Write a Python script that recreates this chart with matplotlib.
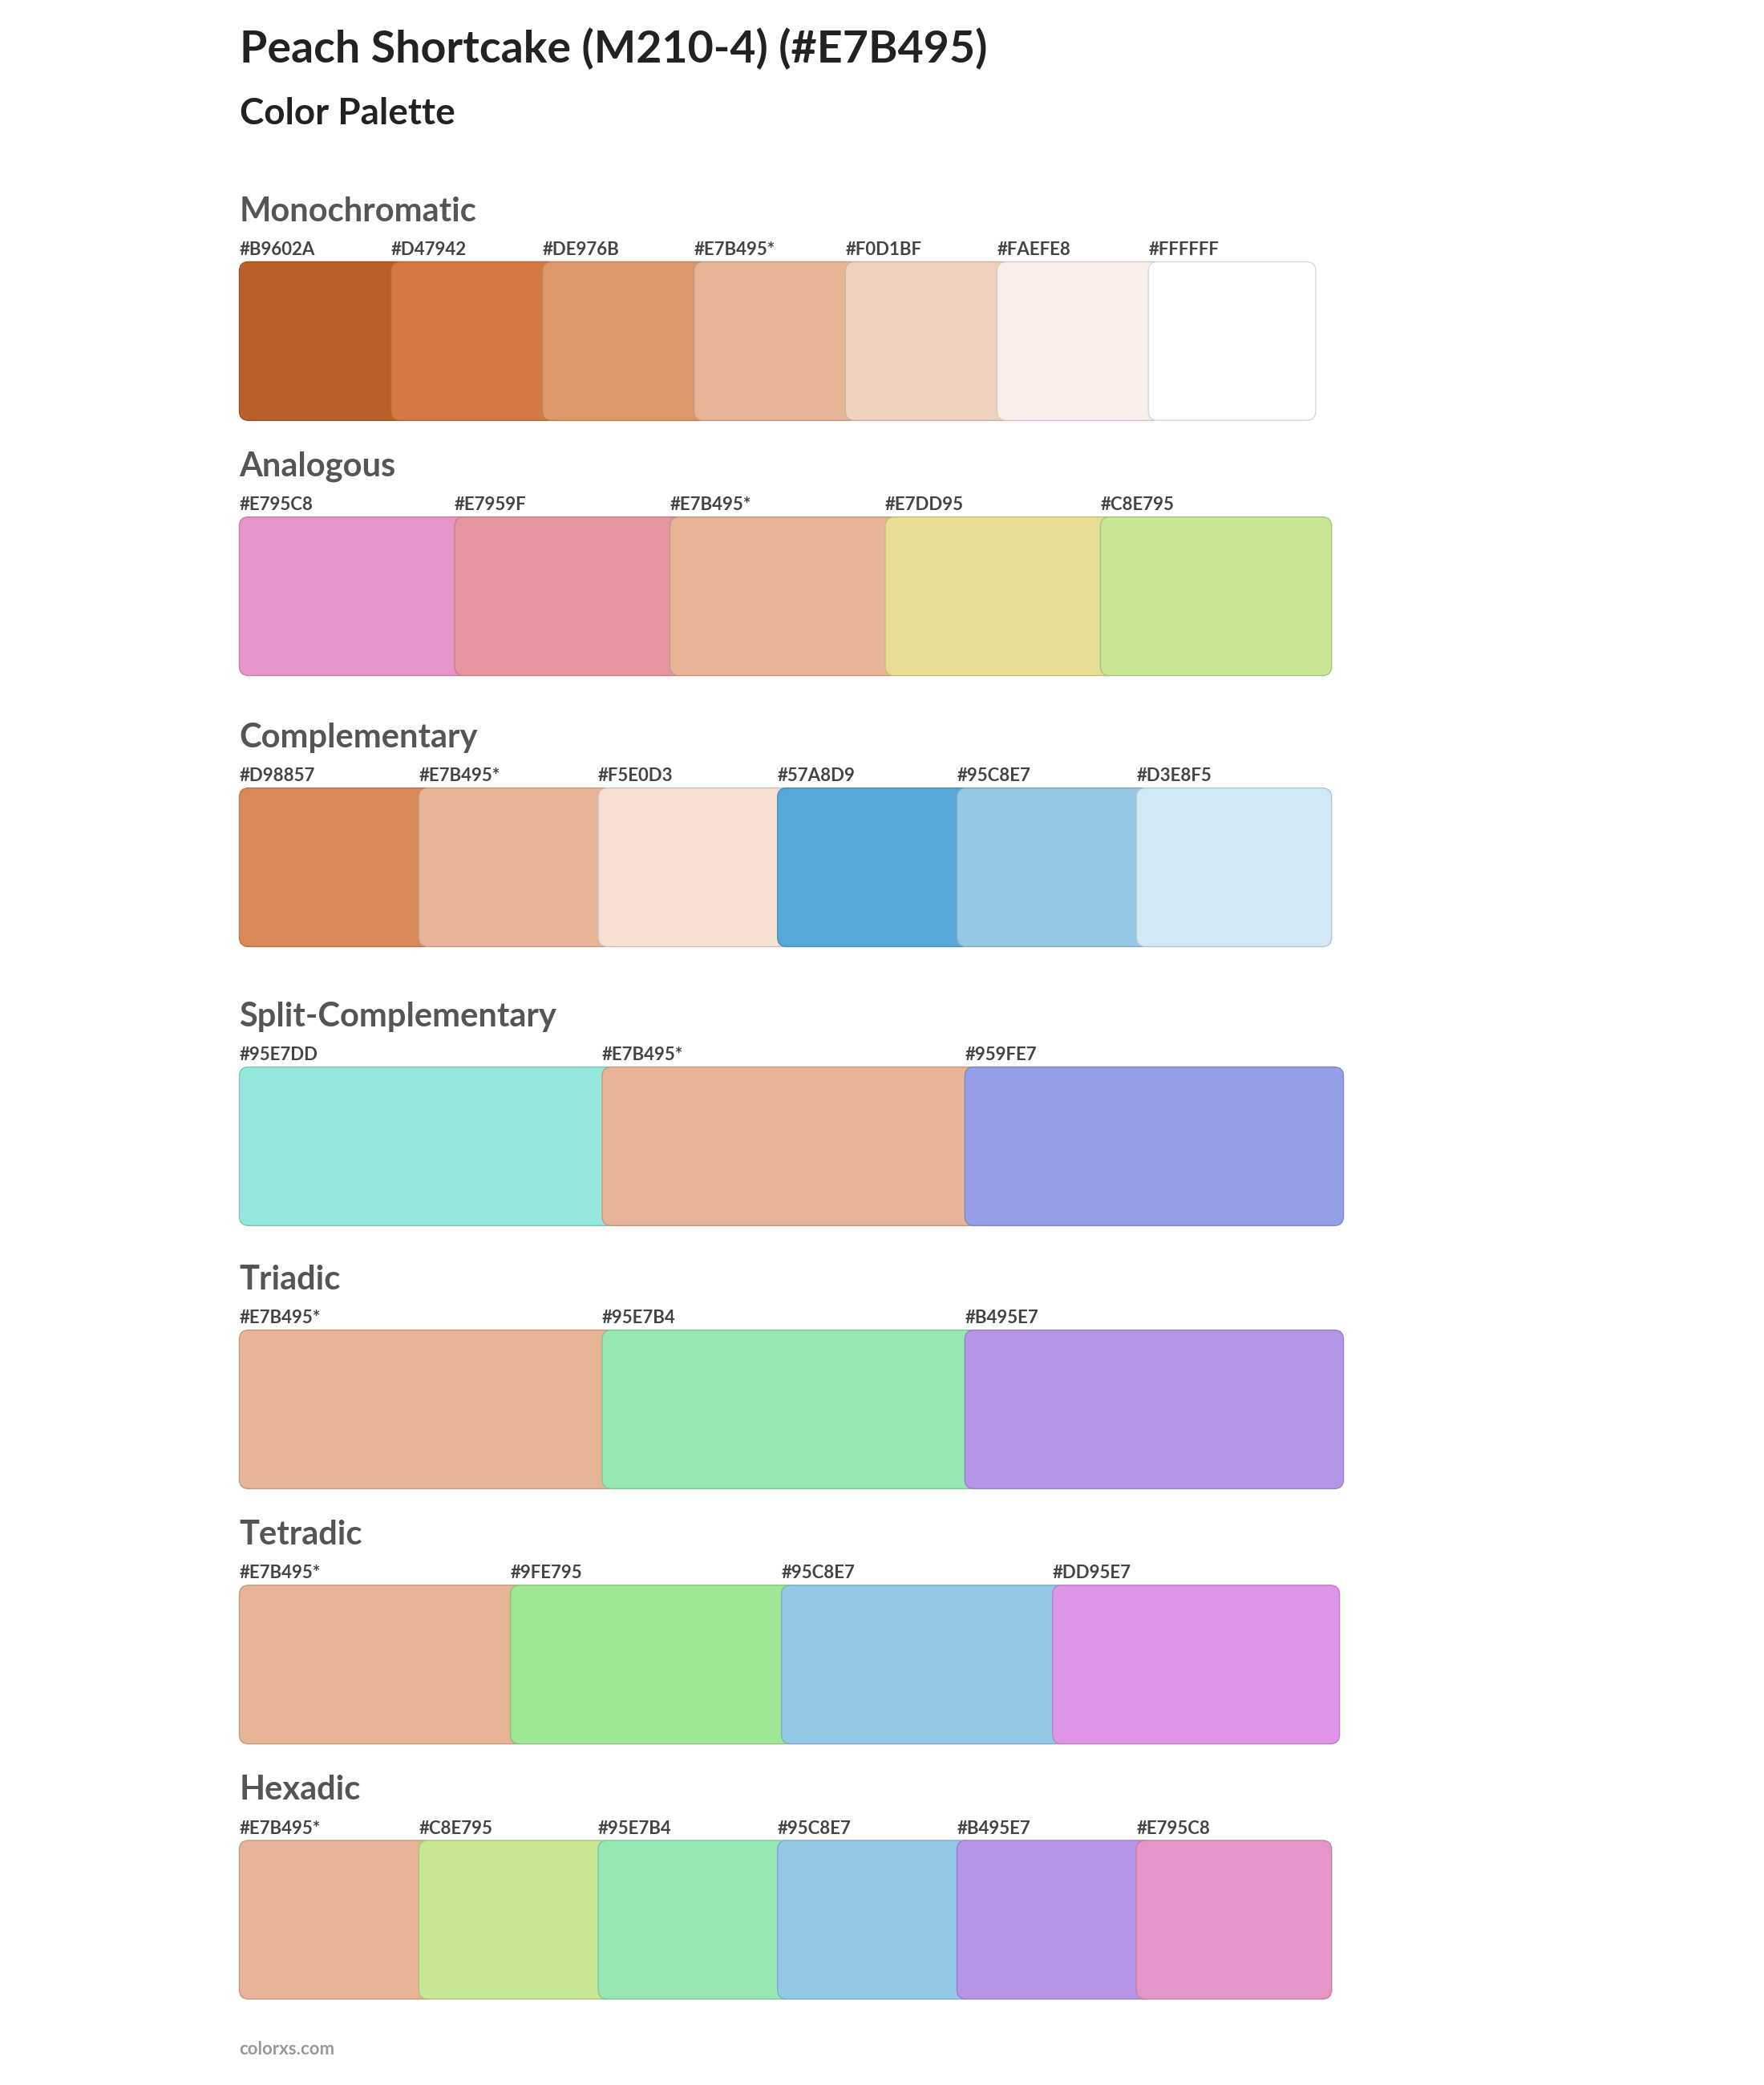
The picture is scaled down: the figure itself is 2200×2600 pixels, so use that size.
import matplotlib
matplotlib.use('Agg')
from matplotlib import pyplot as plt
from matplotlib.patches import FancyBboxPatch
from matplotlib.colors import to_rgb

plt.rcParams['font.family'] = ['Lato', 'DejaVu Sans']

title = 'Peach Shortcake (M210-4) (#E7B495)'
subtitle = 'Color Palette'

section_names = ['Monochromatic', 'Analogous', 'Complementary', 'Split-Complementary',
                 'Triadic', 'Tetradic', 'Hexadic']
monochromatic = ['#B9602A', '#D47942', '#DE976B', '#E7B495', '#F0D1BF', '#FAEFE8', '#FFFFFF']
analogous = ['#E795C8', '#E7959F', '#E7B495', '#E7DD95', '#C8E795']
complementary = ['#D98857', '#E7B495', '#F5E0D3', '#57A8D9', '#95C8E7', '#D3E8F5']
split_complementary = ['#95E7DD', '#E7B495', '#959FE7']
triadic = ['#E7B495', '#95E7B4', '#B495E7']
tetradic = ['#E7B495', '#9FE795', '#95C8E7', '#DD95E7']
hexadic = ['#E7B495', '#C8E795', '#95E7B4', '#95C8E7', '#B495E7', '#E795C8']
palettes = [monochromatic, analogous, complementary, split_complementary,
            triadic, tetradic, hexadic]
base = '#E7B495'

# layout in reference pixel units (1334 x 1577)
W, H = 1334, 1577
row_tops = [198, 391, 596, 807, 1006, 1199, 1392]
row_ends = [995, 1007, 1007, 1016, 1016, 1013, 1007]
x0 = 181
sw_h = 120

fig = plt.figure(figsize=(22, 26), dpi=100)
ax = fig.add_axes([0, 0, 1, 1])
ax.set_xlim(0, W)
ax.set_ylim(H, 0)
ax.axis('off')

ax.text(x0, 37, title, fontsize=40, fontweight='bold', color='#222222', va='center')
ax.text(x0, 86, subtitle, fontsize=33, fontweight='bold', color='#222222', va='center')

for name, cols, top, end in zip(section_names, palettes, row_tops, row_ends):
    n = len(cols)
    # swatches overlap a little: last one is wider by the overlap
    step = (end - x0) / (n + 12.0 / (end - x0) * n) if False else None
    overlap = 12
    step = (end - x0 - overlap) / n
    ax.text(x0, top - 38, name, fontsize=30, fontweight='bold', color='#555555', va='center')
    for i, c in enumerate(cols):
        x = x0 + i * step
        r, g, b = to_rgb(c)
        edge = (r * 0.85, g * 0.85, b * 0.85)
        p = FancyBboxPatch((x, top), step + overlap, sw_h,
                           boxstyle='round,pad=0,rounding_size=7',
                           facecolor=c, edgecolor=edge, linewidth=1.0, zorder=2 + i)
        ax.add_patch(p)
        lab = c + ('*' if c == base else '')
        ax.text(x, top - 9, lab, fontsize=16, fontweight='bold', color='#444444', va='center')

ax.text(x0, 1550, 'colorxs.com', fontsize=16, fontweight='bold', color='#999999', va='center')

fig.savefig('out.png', dpi=100, facecolor='white')
